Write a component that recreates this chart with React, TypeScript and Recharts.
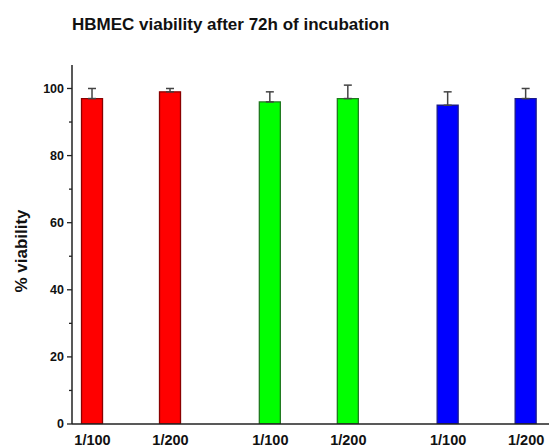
import React from 'react';
import { BarChart, Bar, XAxis, YAxis, ErrorBar, Cell } from 'recharts';

const title = 'HBMEC viability after 72h of incubation';
const yLabel = '% viability';
const doses = ['1/100', '1/200', '1/100', '1/200', '1/100', '1/200'];
const groupOf = [0, 0, 1, 1, 2, 2];
const viability = [97, 99, 96, 97, 95, 97];
const errUp = [3, 1, 3, 4, 4, 3];
const yMajorTicks = [0, 20, 40, 60, 80, 100];
const yMinorTicks = [10, 30, 50, 70, 90];

const groupFill = ['#ff0000', '#00ff00', '#0000ff'];
const groupStroke = ['#8a0000', '#1f7a1f', '#1a1a8a'];
const GROUP_STEP = 2.28;

const data = doses.map((d, i) => ({
  pos: 1 + groupOf[i] * GROUP_STEP + (i % 2),
  label: d,
  value: viability[i],
  err: [0, errUp[i]],
}));

const positions = data.map((d) => d.pos);
const FONT = '"Liberation Sans", Arial, Helvetica, sans-serif';

const YTick = (props: any) => {
  const { x, y, payload } = props;
  const v = payload.value;
  const major = v % 20 === 0;
  const axisX = x + 7;
  return (
    <g>
      <line x1={axisX - (major ? 5 : 3)} x2={axisX} y1={y} y2={y} stroke="#222" strokeWidth={1.3} />
      {major && (
        <text x={axisX - 8} y={y} dy="0.35em" textAnchor="end" fontSize={12.5} fontWeight="bold" fill="#111" fontFamily={FONT}>
          {v}
        </text>
      )}
    </g>
  );
};

export default function App() {
  const allY = [...yMajorTicks, ...yMinorTicks].sort((a, b) => a - b);
  return (
    <div style={{ position: 'relative', width: 549, height: 439, background: '#fff', fontFamily: FONT }}>
      <div
        style={{
          position: 'absolute',
          left: 64,
          top: 8,
          fontSize: 17,
          lineHeight: '17px',
          fontWeight: 'bold',
          color: '#111',
          whiteSpace: 'nowrap',
        }}
      >
        {title}
      </div>
      <BarChart width={549} height={439} data={data} margin={{ top: 57, right: 2, left: 0, bottom: 0 }}>
        <XAxis
          dataKey="pos"
          type="number"
          domain={[0.737, 6.93]}
          ticks={positions}
          tickFormatter={(v: number) => {
            const idx = positions.findIndex((p) => Math.abs(p - v) < 1e-6);
            return idx >= 0 ? doses[idx] : '';
          }}
          tickLine={false}
          tickSize={8.5}
          height={23}
          axisLine={{ stroke: '#222', strokeWidth: 1.5 }}
          tick={{ fontSize: 14.5, fontWeight: 'bold', fill: '#111', fontFamily: FONT }}
          allowDataOverflow
          interval={0}
        />
        <YAxis
          type="number"
          domain={[0, 107]}
          ticks={allY}
          interval={0}
          width={64}
          tickLine={false}
          tickSize={5}
          tickMargin={2}
          axisLine={{ stroke: '#222', strokeWidth: 1.5 }}
          tick={<YTick />}
          allowDataOverflow
          label={{
            content: () => (
              <text
                x={13}
                y={243}
                transform="rotate(-90 13 243)"
                textAnchor="middle"
                dominantBaseline="central"
                fontSize={17}
                fontWeight="bold"
                fill="#111"
                fontFamily={FONT}
              >
                {yLabel}
              </text>
            ),
          }}
        />
        <Bar dataKey="value" barSize={21} isAnimationActive={false} strokeWidth={1.3}>
          {data.map((d, i) => (
            <Cell key={i} fill={groupFill[groupOf[i]]} stroke={groupStroke[groupOf[i]]} />
          ))}
          <ErrorBar dataKey="err" width={4} stroke="#444" strokeWidth={1.5} direction="y" isAnimationActive={false} />
        </Bar>
      </BarChart>
    </div>
  );
}
